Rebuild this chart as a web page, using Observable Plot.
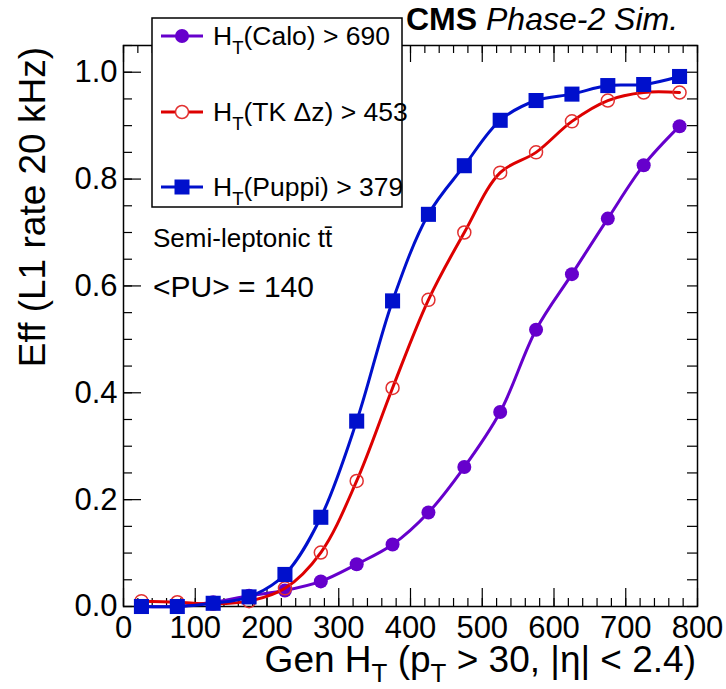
<!DOCTYPE html>
<html><head><meta charset="utf-8">
<script src="https://cdn.jsdelivr.net/npm/d3@7"></script>
<script src="https://cdn.jsdelivr.net/npm/@observablehq/plot@0.6"></script>
<style>
body{margin:0;background:#fff}
svg{font-family:"Liberation Sans",Arial,Helvetica,sans-serif}
</style>
</head><body><div id="chart"></div>
<script>
// ---- data ----
const htBins = [25, 75, 125, 175, 225, 275, 325, 375, 425, 475, 525, 575, 625, 675, 725, 775];
const effCalo  = [0.0, 0.0, 0.008, 0.02, 0.03, 0.047, 0.079, 0.116, 0.176, 0.261, 0.364, 0.518, 0.622, 0.726, 0.826, 0.899];
const effTK    = [0.01, 0.008, 0.005, 0.01, 0.034, 0.101, 0.235, 0.409, 0.574, 0.700, 0.812, 0.850, 0.908, 0.947, 0.962, 0.962];
const effPuppi = [0.0, 0.0, 0.006, 0.018, 0.060, 0.167, 0.347, 0.572, 0.734, 0.825, 0.910, 0.947, 0.959, 0.975, 0.977, 0.992];
const seriesNames = ["Calo", "TK", "Puppi"];
const legendLabels = [["H", "T", "(Calo) > 690"], ["H", "T", "(TK \u0394z) > 453"], ["H", "T", "(Puppi) > 379"]];
const xTicks = [0, 100, 200, 300, 400, 500, 600, 700, 800];
const yTicks = [0, 0.2, 0.4, 0.6, 0.8, 1.0];
const xMinor = d3.range(0, 801, 20);
const yMinor = d3.range(0, 1.051, 0.05);

const colors = {Calo: "#6600cc", TK: "#dd0000", Puppi: "#0010cc"};

const rows = (vals) => htBins.map((x, i) => ({x, y: vals[i]}));
const calo = rows(effCalo), tk = rows(effTK), puppi = rows(effPuppi);

// ---- layout ----
const W = 726, H = 689, mL = 123, mR = 29, mT = 45, mB = 83;
const iw = W - mL - mR, ih = H - mT - mB;

const chart = Plot.plot({
  width: W, height: H,
  marginLeft: mL, marginRight: mR, marginTop: mT, marginBottom: mB,
  style: {background: "white", fontFamily: '"Liberation Sans",Arial,sans-serif', color: "black"},
  x: {domain: [0, 800]},
  y: {domain: [0, 1.05]},
  marks: [
    // inward ticks (ROOT style)
    Plot.tickX(xMinor, {x: d => d, insetTop: ih - 8, stroke: "black", strokeWidth: 1.2}),
    Plot.tickX(xTicks, {x: d => d, insetTop: ih - 18, stroke: "black", strokeWidth: 1.2}),
    Plot.tickX(xMinor, {x: d => d, insetBottom: ih - 8, stroke: "black", strokeWidth: 1.2}),
    Plot.tickX(xTicks, {x: d => d, insetBottom: ih - 17, stroke: "black", strokeWidth: 1.2}),
    Plot.tickY(yMinor, {y: d => d, insetRight: iw - 9, stroke: "black", strokeWidth: 1.2}),
    Plot.tickY(yTicks, {y: d => d, insetRight: iw - 18, stroke: "black", strokeWidth: 1.2}),
    Plot.tickY(yMinor, {y: d => d, insetLeft: iw - 10, stroke: "black", strokeWidth: 1.2}),
    Plot.axisX(xTicks, {tickSize: 0, tickPadding: 9, fontSize: 31, label: null, tickFormat: d => String(d)}),
    Plot.axisY(yTicks, {tickSize: 0, tickPadding: 6, fontSize: 31, label: null, tickFormat: d3.format(".1f")}),
    Plot.frame({stroke: "black", strokeWidth: 1.5}),
    // series
    Plot.line(calo, {x: "x", y: "y", stroke: colors.Calo, strokeWidth: 3, curve: "catmull-rom"}),
    Plot.dot(calo, {x: "x", y: "y", r: 7, fill: colors.Calo}),
    Plot.line(tk, {x: "x", y: "y", stroke: colors.TK, strokeWidth: 3, curve: "catmull-rom"}),
    Plot.dot(tk, {x: "x", y: "y", r: 6.5, fill: "none", stroke: "#e23030", strokeWidth: 1.5}),
    Plot.line(puppi, {x: "x", y: "y", stroke: colors.Puppi, strokeWidth: 3, curve: "catmull-rom"}),
    Plot.dot(puppi, {x: "x", y: "y", r: 8.5, symbol: "square", fill: colors.Puppi})
  ]
});
document.getElementById("chart").appendChild(chart);

// ---- annotations (titles, legend) ----
const svg = d3.select(chart);
const font = '"Liberation Sans",Arial,sans-serif';

function subText(g, parts, size, subShift) {
  parts.forEach((p, i) => {
    const isSub = i % 2 === 1;
    const t = g.append("tspan").text(p);
    if (isSub) { t.attr("font-size", size * 0.7).attr("dy", subShift); }
    else if (i > 0) { t.attr("dy", -subShift); }
  });
}

// x title
const xt = svg.append("text").attr("x", 696).attr("y", 672).attr("text-anchor", "end")
  .attr("font-size", 37).attr("font-family", font).attr("fill", "black");
subText(xt, ["Gen H", "T", " (p", "T", " > 30, |\u03b7| < 2.4)"], 37, 10);

// y title
svg.append("text").attr("transform", "translate(45,47) rotate(-90)").attr("text-anchor", "end")
  .attr("font-size", 37).attr("font-family", font).attr("fill", "black").text("Eff (L1 rate 20 kHz)");

// CMS label
const cms = svg.append("text").attr("x", 406).attr("y", 30).attr("text-anchor", "start")
  .attr("font-size", 32).attr("font-family", font).attr("fill", "black");
cms.append("tspan").attr("font-weight", "bold").text("CMS");
cms.append("tspan").attr("font-style", "italic").text(" Phase-2 Sim.");

// sample text
svg.append("text").attr("x", 153).attr("y", 247).attr("text-anchor", "start").attr("font-size", 26)
  .attr("font-family", font).attr("fill", "black").text("Semi-leptonic tt\u0304");
svg.append("text").attr("x", 153).attr("y", 297).attr("text-anchor", "start").attr("font-size", 30)
  .attr("font-family", font).attr("fill", "black").text("<PU> = 140");

// legend
const lg = svg.append("g");
lg.append("rect").attr("x", 152).attr("y", 18).attr("width", 250).attr("height", 189)
  .attr("fill", "white").attr("stroke", "black").attr("stroke-width", 1.5);
const rowY = [36, 112, 187];
seriesNames.forEach((s, i) => {
  const y = rowY[i];
  lg.append("line").attr("x1", 161).attr("x2", 203).attr("y1", y).attr("y2", y)
    .attr("stroke", colors[s]).attr("stroke-width", 3);
  if (s === "Calo") lg.append("circle").attr("cx", 182).attr("cy", y).attr("r", 7).attr("fill", colors[s]);
  if (s === "TK") lg.append("circle").attr("cx", 182).attr("cy", y).attr("r", 6.5).attr("fill", "white").attr("stroke", "#e23030").attr("stroke-width", 1.5);
  if (s === "Puppi") lg.append("rect").attr("x", 174.5).attr("y", y - 7.5).attr("width", 15).attr("height", 15).attr("fill", colors[s]);
  const t = lg.append("text").attr("x", 213).attr("y", y + 9).attr("text-anchor", "start")
    .attr("font-size", 26.5).attr("font-family", font).attr("fill", "black");
  subText(t, legendLabels[i], 26.5, 9);
});
</script>
</body></html>
